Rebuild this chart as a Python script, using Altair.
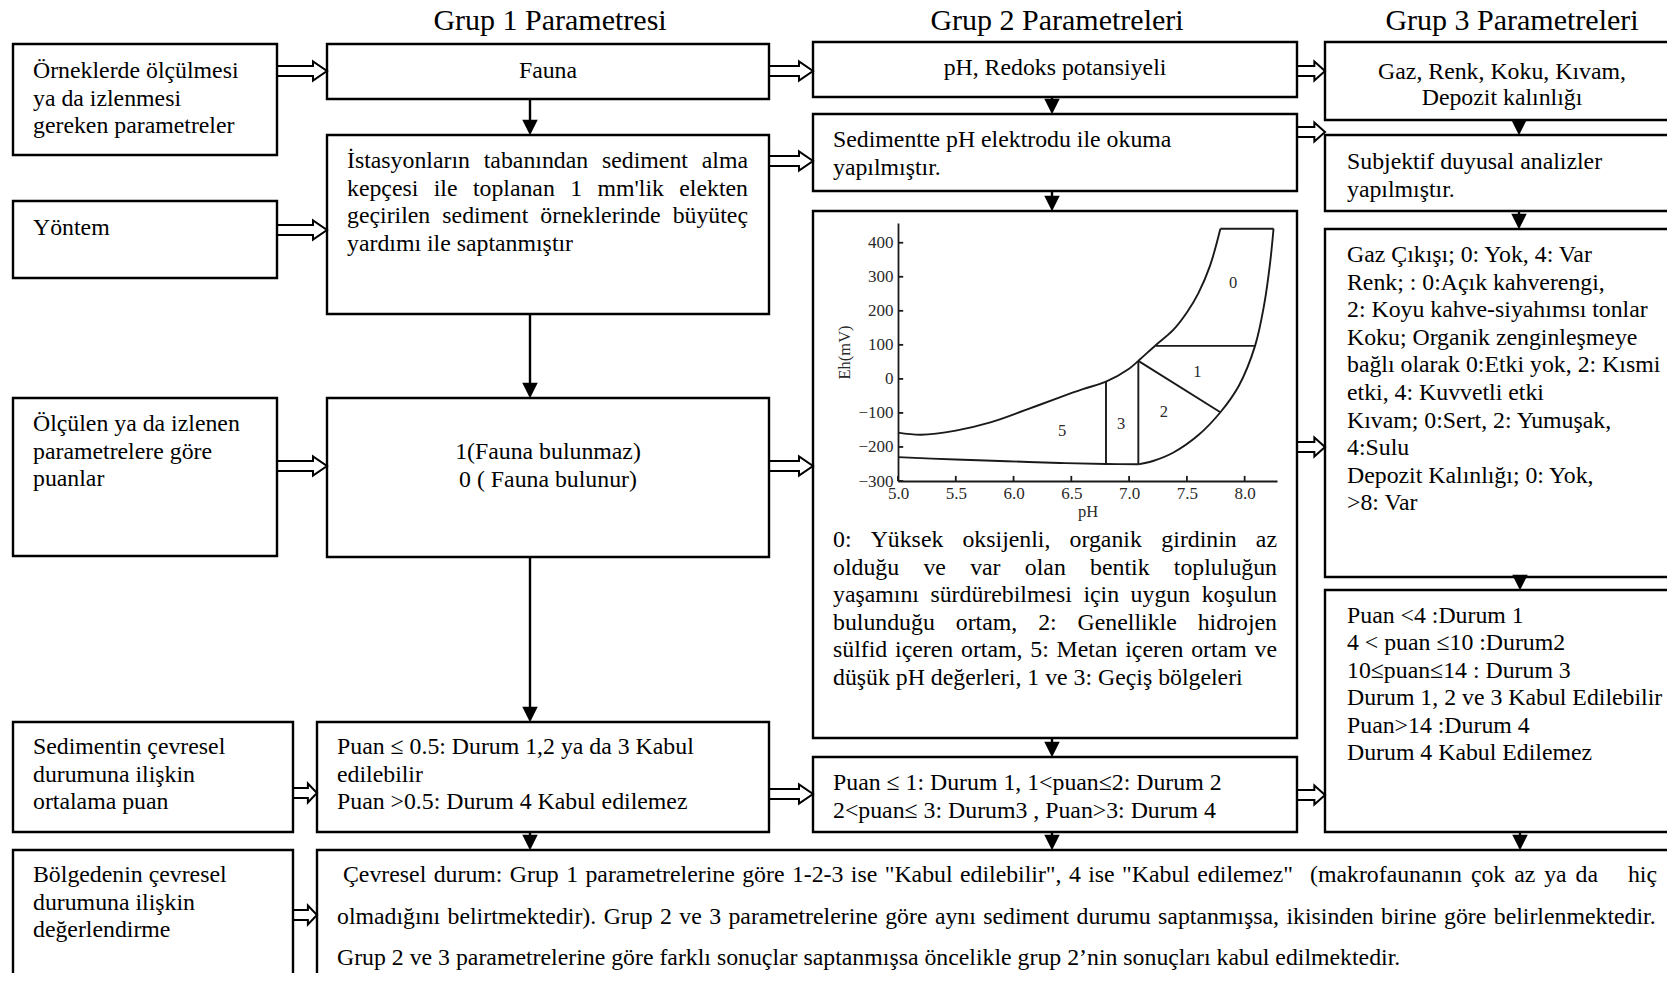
import altair as alt
import pandas as pd

FONT = "Liberation Serif"
FS = 23.8
LH = 27.6

# ---------------- text content ----------------
group_titles = ["Grup 1 Parametresi", "Grup 2 Parametreleri", "Grup 3 Parametreleri"]

row_texts = [
    ["Örneklerde ölçülmesi", "ya da izlenmesi", "gereken parametreler"],
    ["Yöntem"],
    ["Ölçülen ya da izlenen", "parametrelere göre", "puanlar"],
    ["Sedimentin çevresel", "durumuna ilişkin", "ortalama puan"],
    ["Bölgedenin çevresel", "durumuna ilişkin", "değerlendirme"],
]

g1_fauna = ["Fauna"]
g1_method = ["İstasyonların  tabanından sediment alma",
             "kepçesi ile toplanan 1 mm'lik elekten",
             "geçirilen sediment örneklerinde büyüteç",
             "yardımı ile saptanmıştır"]
g1_score = ["1(Fauna bulunmaz)", "0 ( Fauna bulunur)"]
g1_mean = ["Puan ≤ 0.5: Durum 1,2 ya da 3 Kabul", "edilebilir",
           "Puan >0.5: Durum 4 Kabul edilemez"]

g2_param = ["pH, Redoks potansiyeli"]
g2_method = ["Sedimentte pH elektrodu ile okuma", "yapılmıştır."]
g2_caption = ["0: Yüksek oksijenli, organik girdinin az",
              "olduğu ve var olan bentik topluluğun",
              "yaşamını sürdürebilmesi için uygun koşulun",
              "bulunduğu ortam, 2: Genellikle hidrojen",
              "sülfid içeren ortam, 5: Metan içeren ortam ve",
              "düşük pH değerleri, 1 ve 3: Geçiş bölgeleri"]
g2_mean = ["Puan ≤ 1: Durum 1, 1<puan≤2: Durum 2",
           "2<puan≤ 3: Durum3 , Puan>3: Durum 4"]

g3_param = ["Gaz, Renk, Koku, Kıvam,", "Depozit kalınlığı"]
g3_method = ["Subjektif duyusal analizler", "yapılmıştır."]
g3_score = ["Gaz Çıkışı; 0: Yok, 4: Var", "Renk; : 0:Açık kahverengi,",
            "2: Koyu kahve-siyahımsı tonlar", "Koku; Organik zenginleşmeye",
            "bağlı olarak 0:Etki yok, 2: Kısmi", "etki, 4: Kuvvetli etki",
            "Kıvam; 0:Sert, 2: Yumuşak,", "4:Sulu",
            "Depozit Kalınlığı; 0: Yok,", ">8: Var"]
g3_mean = ["Puan <4 :Durum 1", "4 < puan ≤10 :Durum2", "10≤puan≤14 : Durum 3",
           "Durum 1, 2 ve 3 Kabul Edilebilir", "Puan>14 :Durum 4",
           "Durum 4 Kabul Edilemez"]

conclusion_1a = "Çevresel durum: Grup 1 parametrelerine göre 1-2-3 ise \"Kabul edilebilir\", 4 ise \"Kabul edilemez\""
conclusion_1b = "(makrofaunanın çok az ya da"
conclusion_1c = "hiç"
conclusion_2 = "olmadığını belirtmektedir). Grup 2 ve 3 parametrelerine göre aynı sediment durumu saptanmışsa, ikisinden birine göre belirlenmektedir."
conclusion_3 = "Grup 2 ve 3 parametrelerine göre farklı sonuçlar saptanmışsa öncelikle grup 2’nin sonuçları kabul edilmektedir."

# ---------------- Eh-pH diagram data ----------------
upper_pH = [5.0, 5.2, 5.5, 5.8, 6.1, 6.4, 6.6, 6.8, 7.0, 7.08, 7.23, 7.38, 7.5, 7.6, 7.7, 7.79]
upper_Eh = [-158, -164, -152, -128, -92, -54, -30, -8, 30, 53, 99, 143, 195, 252, 332, 441]
lower_pH = [5.0, 5.5, 5.94, 6.4, 6.8, 7.08]
lower_Eh = [-230, -237, -242, -247, -250, -251]
right_pH = [7.08, 7.2, 7.38, 7.6, 7.79, 7.95, 8.09, 8.17, 8.22, 8.25]
right_Eh = [-251, -242, -217, -165, -98, -20, 97, 220, 340, 441]
top_pH = [7.79, 8.25]
top_Eh = [441, 441]
v1_pH = [6.8, 6.8]
v1_Eh = [-250, -8]
v2_pH = [7.08, 7.08]
v2_Eh = [-251, 53]
diag_pH = [7.08, 7.79]
diag_Eh = [53, -98]
hor_pH = [7.23, 8.09]
hor_Eh = [97, 97]
zone_names = ["0", "1", "2", "3", "5"]
zone_pH = [7.90, 7.59, 7.30, 6.93, 6.42]
zone_Eh = [281, 21, -96, -134, -154]
ph_ticks = [5.0, 5.5, 6.0, 6.5, 7.0, 7.5, 8.0]
eh_ticks = [-300, -200, -100, 0, 100, 200, 300, 400]

# ---------------- layout (diagram pixel space) ----------------
boxes = [
    (13, 44, 277, 155), (13, 201, 277, 278), (13, 398, 277, 556),
    (13, 722, 293, 832), (13, 850, 293, 1000),
    (327, 44, 769, 99), (327, 135, 769, 314), (327, 398, 769, 557),
    (317, 722, 769, 832), (317, 850, 1700, 1000),
    (813, 42, 1297, 97), (813, 114, 1297, 191), (813, 211, 1297, 738),
    (813, 757, 1297, 832),
    (1325, 42, 1700, 120), (1325, 135, 1700, 211), (1325, 229, 1700, 577),
    (1325, 590, 1700, 832),
]
down_arrows = [
    (530, 99, 135), (530, 314, 398), (530, 557, 722), (530, 832, 850),
    (1052, 97, 114), (1052, 191, 211), (1052, 738, 757), (1052, 832, 850),
    (1519, 120, 135), (1519, 211, 229), (1520, 577, 590), (1520, 832, 850),
]
double_arrows = [
    (277, 327, 71), (277, 327, 230), (277, 327, 466), (293, 317, 793),
    (293, 317, 915), (769, 813, 71), (769, 813, 161), (769, 813, 466),
    (769, 813, 794), (1297, 1325, 71), (1297, 1325, 132), (1297, 1325, 447),
    (1297, 1325, 795),
]

W = {' ': 250, '!': 333, '"': 408, "'": 180, '(': 333, ')': 333, ',': 250, '-': 333,
     '.': 250, ':': 278, ';': 278, '<': 564, '>': 564, '=': 564, '≤': 549, '’': 333,
     'A': 722, 'B': 667, 'C': 667, 'D': 722, 'E': 611, 'F': 556, 'G': 722, 'H': 722,
     'I': 333, 'J': 389, 'K': 722, 'L': 611, 'M': 889, 'N': 722, 'O': 722, 'P': 556,
     'Q': 722, 'R': 667, 'S': 556, 'T': 611, 'U': 722, 'V': 722, 'W': 944, 'X': 722,
     'Y': 722, 'Z': 611, 'a': 444, 'b': 500, 'c': 444, 'd': 500, 'e': 444, 'f': 333,
     'g': 500, 'h': 500, 'i': 278, 'j': 278, 'k': 500, 'l': 278, 'm': 778, 'n': 500,
     'o': 500, 'p': 500, 'q': 500, 'r': 333, 's': 389, 't': 278, 'u': 500, 'v': 500,
     'w': 722, 'x': 500, 'y': 500, 'z': 444, 'ç': 444, 'ş': 389, 'ğ': 500, 'ı': 278,
     'ö': 500, 'ü': 500, 'İ': 333, 'Ç': 667, 'Ö': 722, 'Ş': 556, 'Ü': 722, 'Ğ': 722}


def tw(s, fs=FS):
    return sum(W.get(c, 500) for c in s) / 1000.0 * fs


left_rows, center_rows, right_rows = [], [], []


def block_left(lines, x, y0, lh=LH):
    for i, t in enumerate(lines):
        left_rows.append({"x": x, "y": y0 + i * lh, "t": t})


def block_center(lines, x, y0, lh=LH):
    for i, t in enumerate(lines):
        center_rows.append({"x": x, "y": y0 + i * lh, "t": t})


def spread(line, left, right, y):
    words = line.split()
    ws = [tw(w) for w in words]
    gap = (right - left - sum(ws)) / max(1, len(words) - 1)
    x = left
    for w, wd in zip(words, ws):
        left_rows.append({"x": x, "y": y, "t": w})
        x += wd + gap


def justified(lines, left, right, y0, lh=LH):
    for i, line in enumerate(lines):
        y = y0 + i * lh
        if i == len(lines) - 1:
            left_rows.append({"x": left, "y": y, "t": line})
        else:
            spread(line, left, right, y)


ys = [71, 228, 424, 747, 875]
for lines, y0 in zip(row_texts, ys):
    block_left(lines, 33, y0)

block_center(g1_fauna, 548, 71)
justified(g1_method, 347, 748, 161)
block_center(g1_score, 548, 452)
block_left(g1_mean, 337, 747)

block_center(g2_param, 1055, 68)
block_left(g2_method, 833, 140)
justified(g2_caption, 833, 1277, 540)
block_left(g2_mean, 833, 783)

block_center(g3_param, 1502, 72, 26)
block_left(g3_method, 1347, 162)
block_left(g3_score, 1347, 255, 27.6)
block_left(g3_mean, 1347, 616, 27.4)

spread(conclusion_1a, 343, 1293, 875)
spread(conclusion_1b, 1310, 1598, 875)
right_rows.append({"x": 1657, "y": 875, "t": conclusion_1c})
spread(conclusion_2, 337, 1657, 917)
left_rows.append({"x": 337, "y": 958, "t": conclusion_3})

title_rows = [{"x": x, "y": 21, "t": t} for x, t in zip([550, 1057, 1512], group_titles)]

box_df = pd.DataFrame([{"x": a, "y": b, "x2": c, "y2": d} for a, b, c, d in boxes])

HEAD = 15
shaft_df = pd.DataFrame([{"x": x, "y": y0, "y2": y1 - HEAD + 1} for x, y0, y1 in down_arrows
                         if y1 - y0 > HEAD])
head_df = pd.DataFrame([{"x": x, "y": y1 - HEAD / 2.0} for x, y0, y1 in down_arrows])

dbl = []
for i, (x0, x1, y) in enumerate(double_arrows):
    hl = min(14, 0.38 * (x1 - x0))
    xh = x1 - hl
    pts = [(x0, y - 5), (xh, y - 5), (xh, y - 9.5), (x1, y), (xh, y + 9.5), (xh, y + 5), (x0, y + 5)]
    for k, (px, py) in enumerate(pts):
        dbl.append({"id": i, "k": k, "x": px, "y": py})
dbl_df = pd.DataFrame(dbl)

# ---------------- scales ----------------
XS = alt.Scale(domain=[8, 1667], nice=False, zero=False)
YS = alt.Scale(domain=[8, 973], nice=False, zero=False, reverse=True)


def X(f="x"):
    return alt.X(f + ":Q", scale=XS, axis=None)


def Y(f="y"):
    return alt.Y(f + ":Q", scale=YS, axis=None)


rects = alt.Chart(box_df).mark_rect(fill="white", stroke="black", strokeWidth=2.4).encode(
    x=X(), x2="x2:Q", y=Y(), y2="y2:Q")
shafts = alt.Chart(shaft_df).mark_rule(color="black", strokeWidth=2.4).encode(
    x=X(), y=Y(), y2="y2:Q")
heads = alt.Chart(head_df).mark_point(shape="M-1,-1L1,-1L0,1Z", filled=True, fill="black",
                                      strokeWidth=0, size=240, opacity=1).encode(x=X(), y=Y())
dbl_arrows = alt.Chart(dbl_df).mark_line(color="black", strokeWidth=2, strokeJoin="miter").encode(
    x=X(), y=Y(), detail="id:N", order="k:Q")

txt_kw = dict(font=FONT, fontSize=FS, color="black", baseline="middle")
t_left = alt.Chart(pd.DataFrame(left_rows)).mark_text(align="left", **txt_kw).encode(
    x=X(), y=Y(), text="t:N")
t_center = alt.Chart(pd.DataFrame(center_rows)).mark_text(align="center", **txt_kw).encode(
    x=X(), y=Y(), text="t:N")
t_right = alt.Chart(pd.DataFrame(right_rows)).mark_text(align="right", **txt_kw).encode(
    x=X(), y=Y(), text="t:N")
t_title = alt.Chart(pd.DataFrame(title_rows)).mark_text(
    align="center", font=FONT, fontSize=30, color="black", baseline="middle").encode(
    x=X(), y=Y(), text="t:N")

# ---------------- inner Eh-pH chart ----------------
IX = alt.Scale(domain=[5.0, 8.28], range=[890, 1269], nice=False, zero=False)
IY = alt.Scale(domain=[-300, 458], range=[473, 215], nice=False, zero=False)

segs = []
for sid, (px, ey) in enumerate([(upper_pH, upper_Eh), (lower_pH, lower_Eh), (right_pH, right_Eh),
                                (top_pH, top_Eh), (v1_pH, v1_Eh), (v2_pH, v2_Eh),
                                (diag_pH, diag_Eh), (hor_pH, hor_Eh)]):
    for k, (a, b) in enumerate(zip(px, ey)):
        segs.append({"seg": sid, "k": k, "pH": a, "Eh": b})
seg_df = pd.DataFrame(segs)

GRAY = "#2a2a2a"
LINE = "#1a1a1a"
x_axis = alt.Axis(orient="bottom", offset=-492, values=ph_ticks, format=".1f", ticks=False,
                  tickSize=0, labelFont=FONT, labelFontSize=17, labelColor=GRAY, labelPadding=4,
                  labelFlush=False, labelOverlap=False, domainColor=LINE, domainWidth=1.8,
                  grid=False, title="pH", titleFont=FONT, titleFontSize=16.5,
                  titleFontWeight="normal", titleColor=GRAY, titlePadding=2, zindex=2)
y_axis = alt.Axis(orient="left", offset=-890, values=eh_ticks, format="d", ticks=False,
                  tickSize=0, labelFont=FONT, labelFontSize=17, labelColor=GRAY, labelPadding=5,
                  labelFlush=False, labelOverlap=False, domainColor=LINE, domainWidth=1.8,
                  grid=False, title="Eh(mV)", titleFont=FONT, titleFontSize=16.5,
                  titleFontWeight="normal", titleColor=GRAY, titlePadding=5, zindex=2)

curves = alt.Chart(seg_df).mark_line(color=LINE, strokeWidth=1.9,
                                     interpolate="catmull-rom").encode(
    x=alt.X("pH:Q", scale=IX, axis=x_axis), y=alt.Y("Eh:Q", scale=IY, axis=y_axis),
    detail="seg:N", order="k:Q")

xt_df = pd.DataFrame({"pH": ph_ticks, "Eh": [-300] * len(ph_ticks), "Eh2": [-285] * len(ph_ticks)})
yt_df = pd.DataFrame({"pH": [5.0] * len(eh_ticks), "pH2": [5.045] * len(eh_ticks), "Eh": eh_ticks})
xticks = alt.Chart(xt_df).mark_rule(color=LINE, strokeWidth=1.8).encode(
    x=alt.X("pH:Q", scale=IX, axis=None), y=alt.Y("Eh:Q", scale=IY, axis=None), y2="Eh2:Q")
yticks = alt.Chart(yt_df).mark_rule(color=LINE, strokeWidth=1.8).encode(
    x=alt.X("pH:Q", scale=IX, axis=None), x2="pH2:Q", y=alt.Y("Eh:Q", scale=IY, axis=None))
zones = alt.Chart(pd.DataFrame({"pH": zone_pH, "Eh": zone_Eh, "t": zone_names})).mark_text(
    font=FONT, fontSize=16.5, color=GRAY, baseline="middle").encode(
    x=alt.X("pH:Q", scale=IX, axis=None), y=alt.Y("Eh:Q", scale=IY, axis=None), text="t:N")

chart = alt.layer(rects, shafts, heads, dbl_arrows, t_left, t_center, t_right, t_title,
                  curves, xticks, yticks, zones).resolve_scale(
    x="independent", y="independent").properties(
    width=1659, height=965, padding=0, autosize=alt.AutoSizeParams(type="none"),
    background="white"
).configure_view(stroke=None)

chart.save("out.html", embed_options={"renderer": "svg", "actions": False})
